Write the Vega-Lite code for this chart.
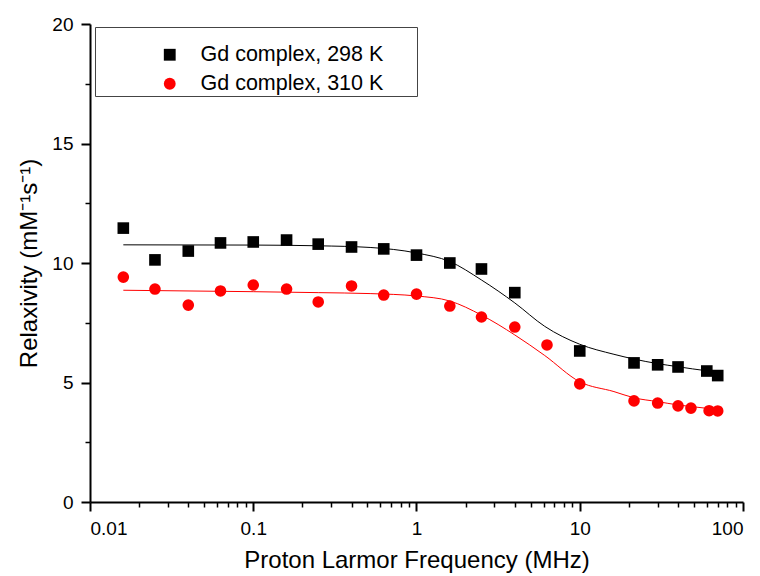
{
  "$schema": "https://vega.github.io/schema/vega-lite/v6.json",
  "width": 653,
  "height": 478,
  "autosize": {"type": "none"},
  "padding": {"left": 90, "top": 24, "right": 17, "bottom": 74},
  "background": "white",
  "config": {
    "view": {"stroke": null},
    "font": "Liberation Sans",
    "axis": {
      "domainColor": "black",
      "domainWidth": 2,
      "tickColor": "black",
      "tickWidth": 2,
      "grid": false,
      "labelFont": "Liberation Sans",
      "labelFontSize": 19,
      "labelColor": "black",
      "titleFont": "Liberation Sans",
      "titleFontSize": 24,
      "titleFontWeight": "normal",
      "titleColor": "black"
    }
  },
  "datasets": {
    "obs": [
      {"series": "Gd complex, 298 K", "freq": 0.016, "relax": 11.46},
      {"series": "Gd complex, 298 K", "freq": 0.025, "relax": 10.13},
      {"series": "Gd complex, 298 K", "freq": 0.04, "relax": 10.5},
      {"series": "Gd complex, 298 K", "freq": 0.063, "relax": 10.84},
      {"series": "Gd complex, 298 K", "freq": 0.1, "relax": 10.88},
      {"series": "Gd complex, 298 K", "freq": 0.16, "relax": 10.96},
      {"series": "Gd complex, 298 K", "freq": 0.25, "relax": 10.79},
      {"series": "Gd complex, 298 K", "freq": 0.4, "relax": 10.67},
      {"series": "Gd complex, 298 K", "freq": 0.63, "relax": 10.59},
      {"series": "Gd complex, 298 K", "freq": 1.0, "relax": 10.33},
      {"series": "Gd complex, 298 K", "freq": 1.6, "relax": 10.0},
      {"series": "Gd complex, 298 K", "freq": 2.5, "relax": 9.75},
      {"series": "Gd complex, 298 K", "freq": 4.0, "relax": 8.76},
      {"series": "Gd complex, 298 K", "freq": 10.0, "relax": 6.32},
      {"series": "Gd complex, 298 K", "freq": 21.5, "relax": 5.82},
      {"series": "Gd complex, 298 K", "freq": 30.0, "relax": 5.74},
      {"series": "Gd complex, 298 K", "freq": 40.0, "relax": 5.65},
      {"series": "Gd complex, 298 K", "freq": 60.0, "relax": 5.48},
      {"series": "Gd complex, 298 K", "freq": 70.0, "relax": 5.29},
      {"series": "Gd complex, 310 K", "freq": 0.016, "relax": 9.41},
      {"series": "Gd complex, 310 K", "freq": 0.025, "relax": 8.91},
      {"series": "Gd complex, 310 K", "freq": 0.04, "relax": 8.24},
      {"series": "Gd complex, 310 K", "freq": 0.063, "relax": 8.83},
      {"series": "Gd complex, 310 K", "freq": 0.1, "relax": 9.08},
      {"series": "Gd complex, 310 K", "freq": 0.16, "relax": 8.91},
      {"series": "Gd complex, 310 K", "freq": 0.25, "relax": 8.37},
      {"series": "Gd complex, 310 K", "freq": 0.4, "relax": 9.04},
      {"series": "Gd complex, 310 K", "freq": 0.63, "relax": 8.66},
      {"series": "Gd complex, 310 K", "freq": 1.0, "relax": 8.7},
      {"series": "Gd complex, 310 K", "freq": 1.6, "relax": 8.2},
      {"series": "Gd complex, 310 K", "freq": 2.5, "relax": 7.74},
      {"series": "Gd complex, 310 K", "freq": 4.0, "relax": 7.32},
      {"series": "Gd complex, 310 K", "freq": 6.3, "relax": 6.57},
      {"series": "Gd complex, 310 K", "freq": 10.0, "relax": 4.94},
      {"series": "Gd complex, 310 K", "freq": 21.5, "relax": 4.23},
      {"series": "Gd complex, 310 K", "freq": 30.0, "relax": 4.14},
      {"series": "Gd complex, 310 K", "freq": 40.0, "relax": 4.02},
      {"series": "Gd complex, 310 K", "freq": 48.0, "relax": 3.93},
      {"series": "Gd complex, 310 K", "freq": 62.0, "relax": 3.82},
      {"series": "Gd complex, 310 K", "freq": 70.0, "relax": 3.81}
    ],
    "fit": [
      {"series": "Gd complex, 298 K", "freq": 0.016, "relax": 10.76},
      {"series": "Gd complex, 298 K", "freq": 0.1, "relax": 10.75},
      {"series": "Gd complex, 298 K", "freq": 0.25, "relax": 10.72},
      {"series": "Gd complex, 298 K", "freq": 0.52, "relax": 10.65},
      {"series": "Gd complex, 298 K", "freq": 1.0, "relax": 10.42},
      {"series": "Gd complex, 298 K", "freq": 1.6, "relax": 10.06},
      {"series": "Gd complex, 298 K", "freq": 2.5, "relax": 9.29},
      {"series": "Gd complex, 298 K", "freq": 4.0, "relax": 8.33},
      {"series": "Gd complex, 298 K", "freq": 6.1, "relax": 7.35},
      {"series": "Gd complex, 298 K", "freq": 10.0, "relax": 6.6},
      {"series": "Gd complex, 298 K", "freq": 16.2, "relax": 6.18},
      {"series": "Gd complex, 298 K", "freq": 21.5, "relax": 5.98},
      {"series": "Gd complex, 298 K", "freq": 30.0, "relax": 5.79},
      {"series": "Gd complex, 298 K", "freq": 40.0, "relax": 5.66},
      {"series": "Gd complex, 298 K", "freq": 60.0, "relax": 5.49},
      {"series": "Gd complex, 298 K", "freq": 70.0, "relax": 5.44},
      {"series": "Gd complex, 310 K", "freq": 0.016, "relax": 8.86},
      {"series": "Gd complex, 310 K", "freq": 0.1, "relax": 8.8},
      {"series": "Gd complex, 310 K", "freq": 0.25, "relax": 8.76},
      {"series": "Gd complex, 310 K", "freq": 0.52, "relax": 8.72},
      {"series": "Gd complex, 310 K", "freq": 1.0, "relax": 8.62},
      {"series": "Gd complex, 310 K", "freq": 1.6, "relax": 8.41},
      {"series": "Gd complex, 310 K", "freq": 2.5, "relax": 7.82},
      {"series": "Gd complex, 310 K", "freq": 4.0, "relax": 6.99},
      {"series": "Gd complex, 310 K", "freq": 6.1, "relax": 6.13},
      {"series": "Gd complex, 310 K", "freq": 10.0, "relax": 5.03},
      {"series": "Gd complex, 310 K", "freq": 16.2, "relax": 4.62},
      {"series": "Gd complex, 310 K", "freq": 21.5, "relax": 4.36},
      {"series": "Gd complex, 310 K", "freq": 30.0, "relax": 4.2},
      {"series": "Gd complex, 310 K", "freq": 40.0, "relax": 4.06},
      {"series": "Gd complex, 310 K", "freq": 60.0, "relax": 3.92},
      {"series": "Gd complex, 310 K", "freq": 70.0, "relax": 3.86}
    ]
  },
  "layer": [
    {
      "data": {"name": "fit"},
      "transform": [{"filter": "datum.series === 'Gd complex, 298 K'"}],
      "mark": {"type": "line", "strokeWidth": 1, "interpolate": "monotone", "color": "#000000"},
      "encoding": {
        "x": {
          "field": "freq", "type": "quantitative",
          "scale": {"type": "log", "domain": [0.01, 100], "nice": false},
          "axis": {
            "orient": "bottom",
            "values": [0.02, 0.03, 0.04, 0.05, 0.06, 0.07, 0.08, 0.09, 0.2, 0.3, 0.4, 0.5, 0.6, 0.7, 0.8, 0.9, 2, 3, 4, 5, 6, 7, 8, 9, 20, 30, 40, 50, 60, 70, 80, 90],
            "labels": false, "domain": false, "tickSize": 5, "tickWidth": 1.5, "title": null
          }
        },
        "y": {
          "field": "relax", "type": "quantitative",
          "scale": {"domain": [0, 20], "nice": false},
          "axis": {
            "orient": "left",
            "values": [2.5, 7.5, 12.5, 17.5],
            "labels": false, "domain": false, "tickSize": 5, "tickWidth": 1.5, "title": null
          }
        }
      }
    },
    {
      "data": {"name": "fit"},
      "transform": [{"filter": "datum.series === 'Gd complex, 310 K'"}],
      "mark": {"type": "line", "strokeWidth": 1, "interpolate": "monotone", "color": "#ff0000"},
      "encoding": {
        "x": {
          "field": "freq", "type": "quantitative",
          "scale": {"type": "log", "domain": [0.01, 100], "nice": false},
          "axis": null
        },
        "y": {
          "field": "relax", "type": "quantitative",
          "scale": {"domain": [0, 20], "nice": false},
          "axis": null
        }
      }
    },
    {
      "data": {"name": "obs"},
      "mark": {"type": "point", "filled": true, "opacity": 1, "size": 135},
      "encoding": {
        "x": {
          "field": "freq", "type": "quantitative",
          "scale": {"type": "log", "domain": [0.01, 100], "nice": false},
          "axis": {
            "orient": "bottom",
            "values": [0.01, 0.1, 1, 10, 100],
            "format": "~g",
            "tickSize": 9,
            "labelPadding": 8,
            "titlePadding": 10,
            "title": "Proton Larmor Frequency (MHz)"
          }
        },
        "y": {
          "field": "relax", "type": "quantitative",
          "scale": {"domain": [0, 20], "nice": false},
          "axis": {
            "orient": "left",
            "values": [0, 5, 10, 15, 20],
            "tickSize": 9,
            "labelPadding": 8,
            "titlePadding": 10,
            "title": "Relaxivity (mM⁻¹s⁻¹)"
          }
        },
        "color": {
          "field": "series", "type": "nominal",
          "scale": {"domain": ["Gd complex, 298 K", "Gd complex, 310 K"], "range": ["#000000", "#ff0000"]},
          "legend": {
            "orient": "none",
            "legendX": 5,
            "legendY": 3,
            "title": " ",
            "titleFontSize": 10,
            "titlePadding": 6,
            "padding": 1,
            "strokeColor": "#444444",
            "fillColor": "white",
            "labelFont": "Liberation Sans",
            "labelFontSize": 21.5,
            "labelColor": "black",
            "labelLimit": 500,
            "labelExpr": "datum.label + '\u2800\u2800'",
            "symbolSize": 140,
            "symbolOffset": 63,
            "labelOffset": 20,
            "rowPadding": 6
          }
        },
        "shape": {
          "field": "series", "type": "nominal",
          "scale": {"domain": ["Gd complex, 298 K", "Gd complex, 310 K"], "range": ["square", "circle"]}
        }
      }
    }
  ],
  "resolve": {"axis": {"x": "independent", "y": "independent"}}
}
